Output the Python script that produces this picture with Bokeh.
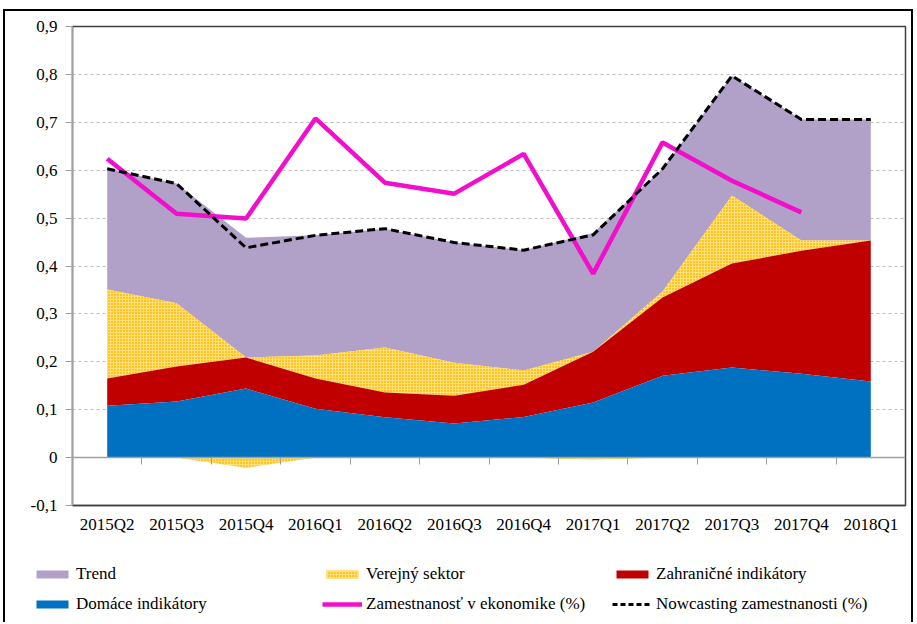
from bokeh.plotting import figure
from bokeh.models import (Range1d, LinearAxis, FixedTicker, CustomJSTickFormatter,
                          Legend, LegendItem, ColumnDataSource, Grid)
from bokeh.embed import file_html
from bokeh.resources import INLINE

quarters = ["2015Q2", "2015Q3", "2015Q4", "2016Q1", "2016Q2", "2016Q3",
            "2016Q4", "2017Q1", "2017Q2", "2017Q3", "2017Q4", "2018Q1"]
domace = [0.108, 0.117, 0.144, 0.102, 0.084, 0.071, 0.085, 0.115, 0.171, 0.188, 0.175, 0.159]
zahranicne = [0.057, 0.073, 0.065, 0.063, 0.052, 0.058, 0.067, 0.106, 0.163, 0.217, 0.257, 0.294]
verejny = [0.186, 0.132, -0.021, 0.048, 0.094, 0.069, 0.030, -0.004, 0.013, 0.142, 0.021, 0.0]
trend = [0.252, 0.250, 0.250, 0.251, 0.248, 0.251, 0.251, 0.248, 0.256, 0.250, 0.253, 0.253]
zamestnanost = [0.624, 0.509, 0.499, 0.708, 0.574, 0.551, 0.634, 0.384, 0.658, 0.578, 0.512]
nowcasting = [0.603, 0.572, 0.438, 0.464, 0.478, 0.449, 0.433, 0.465, 0.603, 0.797, 0.706, 0.706]
y_ticks = [-0.1, 0.0, 0.1, 0.2, 0.3, 0.4, 0.5, 0.6, 0.7, 0.8, 0.9]

n = len(quarters)
xs = list(range(n))
zero = [0.0] * n
s1 = [d for d in domace]
s2 = [a + b for a, b in zip(s1, zahranicne)]
s3 = [a + max(v, 0.0) for a, v in zip(s2, verejny)]
s4 = [a + t for a, t in zip(s3, trend)]
neg = [min(v, 0.0) for v in verejny]

src = ColumnDataSource(dict(x=xs, zero=zero, s1=s1, s2=s2, s3=s3, s4=s4, neg=neg,
                            now=nowcasting))
src_emp = ColumnDataSource(dict(x=xs[:len(zamestnanost)], y=zamestnanost))

FONT = "Liberation Serif"
FS = "17px"

C_TREND = "#B1A0C7"
C_VER = "#FFC41F"
C_VER_H = "#FFE07A"
C_ZAH = "#C00000"
C_DOM = "#0070C0"
C_EMP = "#F20FCB"

p = figure(width=913, height=545, output_backend="svg", toolbar_location=None,
           x_range=Range1d(-0.5, n - 0.5), y_range=Range1d(-0.1, 0.9),
           x_axis_location=None, y_axis_location=None,
           min_border_left=72, min_border_right=8, min_border_top=26, min_border_bottom=40)
p.border_fill_color = None
p.styles = {"box-shadow": ("inset 3px 9px 0 0 #ffffff, inset 5px 11px 0 0 #000000, "
                           "inset -2px 0 0 0 #000000")}
p.outline_line_color = "#404040"
p.outline_line_width = 1.5
p.xgrid.visible = False
p.ygrid.visible = False

# y axis
yax = LinearAxis(ticker=FixedTicker(ticks=y_ticks),
                 formatter=CustomJSTickFormatter(code="""
                     const v = Math.round(tick * 10) / 10;
                     return v.toString().replace('.', ',');
                 """))
yax.axis_line_color = "#a0a0a0"
yax.axis_line_width = 1.5
yax.major_tick_line_color = "#a0a0a0"
yax.major_tick_in = 0
yax.major_tick_out = 7
yax.minor_tick_line_color = None
yax.major_label_standoff = 8
yax.major_label_text_font = FONT
yax.major_label_text_font_size = FS
yax.major_label_text_color = "#000000"
p.add_layout(yax, "left")

# bottom axis with quarter labels
xax = LinearAxis(ticker=FixedTicker(ticks=xs),
                 major_label_overrides={i: q for i, q in enumerate(quarters)})
xax.axis_line_color = "#404040"
xax.axis_line_width = 1.5
xax.major_tick_line_color = None
xax.minor_tick_line_color = None
xax.major_label_standoff = 3
xax.major_label_text_font = FONT
xax.major_label_text_font_size = FS
xax.major_label_text_color = "#000000"
p.add_layout(xax, "below")

# horizontal grid
grid = Grid(dimension=1, ticker=FixedTicker(ticks=y_ticks[2:]))
grid.grid_line_color = "#bfbfbf"
grid.grid_line_dash = "3 3"
grid.grid_line_width = 1
p.add_layout(grid)

hatch = dict(hatch_pattern="cross", hatch_color=C_VER_H, hatch_scale=3, hatch_weight=1)

# stacked areas
p.varea(x="x", y1="s3", y2="s4", source=src, fill_color=C_TREND)
p.varea(x="x", y1="s2", y2="s3", source=src, fill_color=C_VER, **hatch)
p.varea(x="x", y1="neg", y2="zero", source=src, fill_color=C_VER, **hatch)
p.varea(x="x", y1="s1", y2="s2", source=src, fill_color=C_ZAH)
p.varea(x="x", y1="zero", y2="s1", source=src, fill_color=C_DOM)

# x axis at zero with boundary ticks
zax = LinearAxis(ticker=FixedTicker(ticks=[i + 0.5 for i in xs[:-1]]),
                 formatter=CustomJSTickFormatter(code="return ''"),
                 fixed_location=0)
zax.axis_line_color = "#a0a0a0"
zax.axis_line_width = 1.5
zax.major_tick_line_color = "#a0a0a0"
zax.major_tick_in = 0
zax.major_tick_out = 7
zax.minor_tick_line_color = None
p.add_layout(zax, "below")

# lines
p.line(x="x", y="y", source=src_emp, line_color=C_EMP, line_width=4.5)
p.line(x="x", y="now", source=src, line_color="#000000", line_width=3, line_dash="8 4")

# legend panel (separate root, keys only; glyph data lies outside its view)
pl = figure(width=913, height=77, output_backend="svg", toolbar_location=None,
            x_range=Range1d(0, 1), y_range=Range1d(0, 1),
            x_axis_location=None, y_axis_location=None,
            min_border=0, outline_line_color=None)
pl.border_fill_color = None
pl.background_fill_color = None
pl.styles = {"box-shadow": ("inset 3px 0 0 0 #ffffff, inset 5px 0 0 0 #000000, "
                            "inset -2px 0 0 0 #000000")}
pl.xgrid.visible = False
pl.ygrid.visible = False
off = dict(x=[-10.0, -9.0], y1=[-10.0, -10.0], y2=[-10.0, -10.0])
k_trend = pl.varea(x="x", y1="y1", y2="y2", source=ColumnDataSource(off), fill_color=C_TREND)
k_ver = pl.varea(x="x", y1="y1", y2="y2", source=ColumnDataSource(off), fill_color=C_VER, **hatch)
k_zah = pl.varea(x="x", y1="y1", y2="y2", source=ColumnDataSource(off), fill_color=C_ZAH)
k_dom = pl.varea(x="x", y1="y1", y2="y2", source=ColumnDataSource(off), fill_color=C_DOM)
k_emp = pl.line(x="x", y="y1", source=ColumnDataSource(off), line_color=C_EMP, line_width=4.5)
k_now = pl.line(x="x", y="y1", source=ColumnDataSource(off), line_color="#000000",
                line_width=3, line_dash="5 3")


def make_legend(items, x):
    lg = Legend(items=items, location=(x, 8), orientation="vertical")
    lg.label_text_font = FONT
    lg.label_text_font_size = FS
    lg.label_text_color = "#000000"
    lg.background_fill_alpha = 0
    lg.border_line_color = None
    lg.padding = 0
    lg.margin = 0
    lg.spacing = 10
    lg.label_height = 20
    lg.label_standoff = 4
    lg.glyph_width = 40
    lg.glyph_height = 10
    return lg


pl.add_layout(make_legend([LegendItem(label="Trend", renderers=[k_trend]),
                           LegendItem(label="Domáce indikátory", renderers=[k_dom])], 32))
pl.add_layout(make_legend([LegendItem(label="Verejný sektor", renderers=[k_ver]),
                           LegendItem(label="Zamestnanosť v ekonomike (%)", renderers=[k_emp])], 322))
pl.add_layout(make_legend([LegendItem(label="Zahraničné indikátory", renderers=[k_zah]),
                           LegendItem(label="Nowcasting zamestnanosti (%)", renderers=[k_now])], 612))

open("out.html", "w").write(file_html([p, pl], INLINE))
